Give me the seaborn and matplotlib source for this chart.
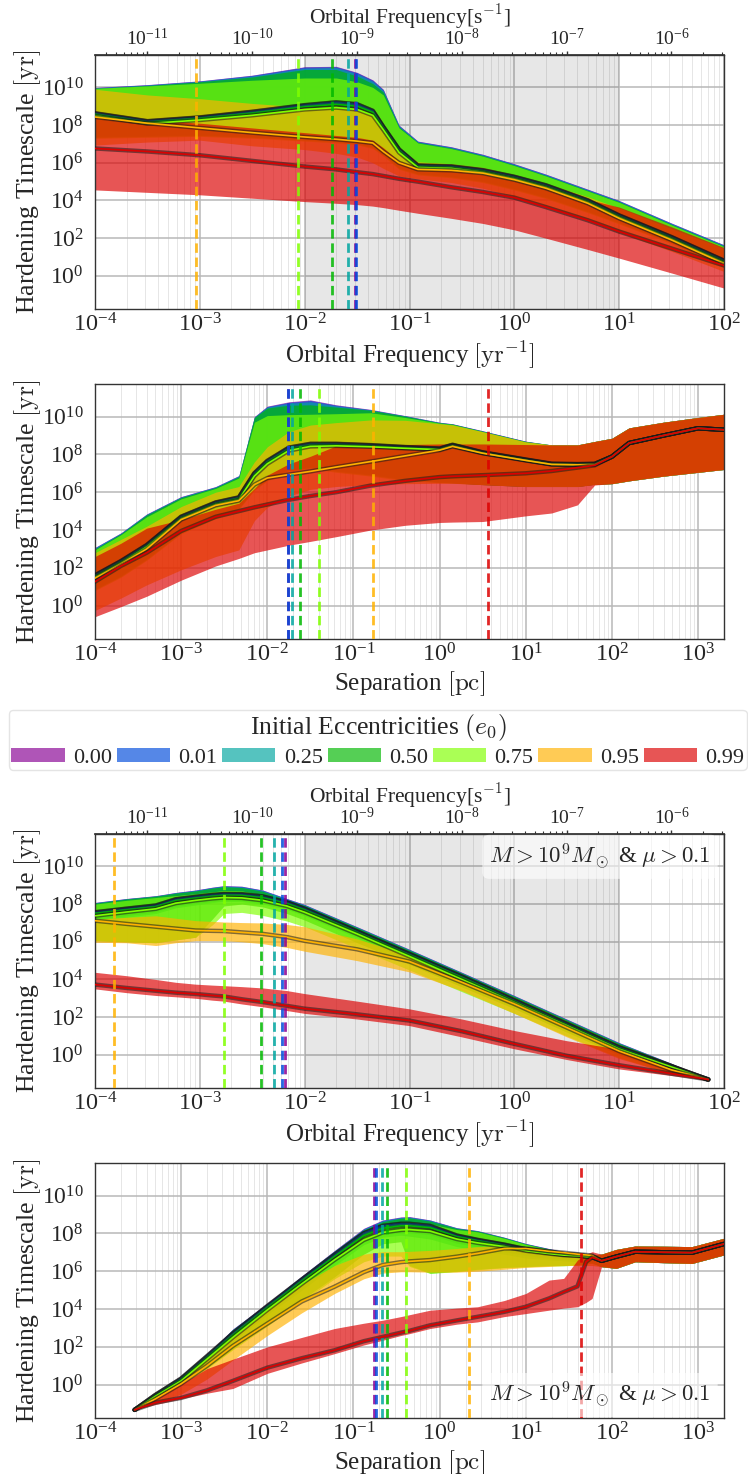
import numpy as np
import pandas as pd
import matplotlib
matplotlib.use("Agg")
import matplotlib.pyplot as plt
import matplotlib.ticker as mticker
import matplotlib.patheffects as pe
from matplotlib.patches import Patch
import seaborn as sns

# ---------------------------------------------------------------------------
# Eccentricity classes and their colours
# ---------------------------------------------------------------------------
ECC = ["0.00", "0.01", "0.25", "0.50", "0.75", "0.95", "0.99"]
COLORS = ["#880094", "#004cdc", "#00a6a0", "#00b800", "#80ff00", "#ffb200", "#dc0000"]
BAND_ALPHA = 0.667
YR_IN_S = 3.15576e7

# Decade tick positions for each axis
FREQ_TICKS = [1e-4, 1e-3, 1e-2, 1e-1, 1e0, 1e1, 1e2]
SEP_TICKS = [1e-4, 1e-3, 1e-2, 1e-1, 1e0, 1e1, 1e2, 1e3]
FREQ_S_TICKS = [1e-11, 1e-10, 1e-9, 1e-8, 1e-7, 1e-6]
TIME_TICKS = [1e0, 1e2, 1e4, 1e6, 1e8, 1e10]

# ---------------------------------------------------------------------------
# Panel 1: all binaries, hardening time vs orbital frequency [log10 yr^-1]
# rows follow ECC; values are log10(timescale / yr)
# ---------------------------------------------------------------------------
P1_X = [-4, -3.5, -3, -2.5, -2, -1.7, -1.5, -1.35, -1.25, -1.1, -0.92, -0.6, -0.3, 0, 0.3, 0.7, 1, 1.5, 2]
P1_HI = [
    [10.0, 10.15, 10.35, 10.65, 11.1, 11.12, 10.8, 10.4, 9.9, 8.0, 7.15, 6.85, 6.45, 5.95, 5.4, 4.6, 4.0, 2.8, 1.65],
    [9.99, 10.14, 10.34, 10.64, 11.08, 11.1, 10.78, 10.38, 9.88, 7.98, 7.14, 6.84, 6.44, 5.94, 5.39, 4.59, 3.99, 2.79, 1.64],
    [9.97, 10.12, 10.32, 10.6, 11.02, 11.05, 10.72, 10.32, 9.83, 7.95, 7.11, 6.81, 6.41, 5.91, 5.36, 4.56, 3.96, 2.76, 1.61],
    [9.95, 10.1, 10.3, 10.55, 10.95, 10.95, 10.6, 10.2, 9.75, 7.9, 7.08, 6.78, 6.38, 5.88, 5.33, 4.53, 3.93, 2.73, 1.58],
    [9.95, 10.08, 10.22, 10.38, 10.5, 10.5, 10.3, 10.0, 9.6, 7.85, 7.05, 6.75, 6.35, 5.85, 5.3, 4.5, 3.9, 2.7, 1.55],
    [9.9, 9.6, 9.4, 9.15, 8.95, 8.9, 8.8, 8.55, 7.9, 6.7, 6.05, 5.95, 5.75, 5.35, 4.9, 4.2, 3.6, 2.5, 1.45],
    [8.5, 8.3, 8.1, 7.85, 7.6, 7.45, 7.35, 7.2, 6.8, 6.1, 5.75, 5.6, 5.4, 5.05, 4.65, 4.05, 3.65, 2.6, 1.5],
]
P1_MED = [
    [8.62, 8.2, 8.4, 8.7, 9.05, 9.2, 9.1, 8.75, 7.9, 6.7, 5.85, 5.8, 5.6, 5.25, 4.8, 4.0, 3.2, 2.05, 0.8],
    [8.63, 8.21, 8.41, 8.71, 9.06, 9.21, 9.11, 8.76, 7.91, 6.71, 5.86, 5.81, 5.61, 5.26, 4.81, 4.01, 3.21, 2.06, 0.81],
    [8.6, 8.18, 8.38, 8.67, 9.02, 9.16, 9.06, 8.72, 7.88, 6.68, 5.83, 5.78, 5.58, 5.23, 4.78, 3.98, 3.18, 2.03, 0.78],
    [8.57, 8.15, 8.35, 8.63, 8.97, 9.1, 9.0, 8.67, 7.85, 6.65, 5.8, 5.75, 5.55, 5.2, 4.75, 3.95, 3.15, 2.0, 0.75],
    [8.5, 8.08, 8.27, 8.52, 8.83, 8.93, 8.83, 8.52, 7.75, 6.55, 5.75, 5.7, 5.5, 5.15, 4.7, 3.9, 3.1, 1.95, 0.7],
    [8.43, 8.1, 7.85, 7.6, 7.37, 7.25, 7.15, 7.05, 6.6, 6.0, 5.65, 5.6, 5.45, 5.1, 4.65, 3.85, 3.05, 1.9, 0.65],
    [6.76, 6.6, 6.4, 6.1, 5.8, 5.65, 5.5, 5.4, 5.3, 5.15, 5.0, 4.7, 4.45, 4.15, 3.65, 2.95, 2.35, 1.45, 0.55],
]
P1_LO = [
    [7.4, 7.45, 7.5, 7.4, 7.25, 7.15, 7.05, 6.85, 6.45, 5.75, 5.45, 5.3, 5.05, 4.65, 4.2, 3.45, 2.85, 1.8, 0.55],
    [7.39, 7.44, 7.49, 7.39, 7.24, 7.14, 7.04, 6.84, 6.44, 5.74, 5.44, 5.29, 5.04, 4.64, 4.19, 3.44, 2.84, 1.79, 0.54],
    [7.37, 7.42, 7.47, 7.37, 7.22, 7.12, 7.02, 6.82, 6.42, 5.72, 5.42, 5.27, 5.02, 4.62, 4.17, 3.42, 2.82, 1.77, 0.52],
    [7.35, 7.4, 7.45, 7.35, 7.2, 7.1, 7.0, 6.8, 6.4, 5.7, 5.4, 5.25, 5.0, 4.6, 4.15, 3.4, 2.8, 1.75, 0.5],
    [7.3, 7.35, 7.4, 7.3, 7.15, 7.05, 6.95, 6.75, 6.35, 5.65, 5.35, 5.2, 4.95, 4.55, 4.1, 3.35, 2.75, 1.7, 0.45],
    [6.94, 7.1, 7.2, 6.9, 6.7, 6.5, 6.3, 6.0, 5.7, 5.3, 5.15, 4.95, 4.65, 4.2, 3.7, 2.95, 2.3, 1.3, 0.23],
    [4.56, 4.43, 4.3, 4.12, 3.94, 3.85, 3.78, 3.7, 3.62, 3.48, 3.32, 3.05, 2.78, 2.44, 2.0, 1.4, 0.94, 0.15, -0.65],
]
P1_VLINES = [0.0305, 0.031, 0.0258, 0.0183, 0.0087, 9.2e-4, np.nan]

# ---------------------------------------------------------------------------
# Panel 2: all binaries, hardening time vs separation [log10 pc]
# ---------------------------------------------------------------------------
P2_X = [-4, -3.7, -3.4, -3.0, -2.6, -2.33, -2.15, -2.0, -1.75, -1.5, -1.2, -0.8, -0.4, 0, 0.15,
        0.5, 1.0, 1.3, 1.6, 1.8, 2.0, 2.2, 2.6, 3.0, 3.3]
P2_TAIL_HI = [8.85, 9.4, 9.7, 9.95, 10.12]
P2_TAIL_MED = [7.88, 8.6, 9.0, 9.38, 9.3]
P2_TAIL_LO = [6.45, 6.6, 6.85, 7.05, 7.2]
P2_HI = [
    [3.08, 3.85, 4.85, 5.77, 6.3, 6.88, 10.0, 10.55, 10.78, 10.88, 10.62, 10.38, 10.05, 9.7, 9.62, 9.25, 8.7, 8.5, 8.5, 8.68] + P2_TAIL_HI,
    [3.07, 3.84, 4.84, 5.76, 6.29, 6.87, 9.98, 10.53, 10.75, 10.85, 10.6, 10.36, 10.04, 9.69, 9.61, 9.24, 8.69, 8.5, 8.5, 8.68] + P2_TAIL_HI,
    [3.05, 3.82, 4.82, 5.74, 6.27, 6.85, 9.97, 10.5, 10.7, 10.78, 10.56, 10.35, 10.03, 9.68, 9.6, 9.23, 8.68, 8.5, 8.5, 8.68] + P2_TAIL_HI,
    [3.0, 3.8, 4.8, 5.72, 6.25, 6.82, 9.95, 10.45, 10.6, 10.62, 10.5, 10.33, 10.02, 9.67, 9.6, 9.22, 8.68, 8.5, 8.5, 8.68] + P2_TAIL_HI,
    [2.95, 3.75, 4.7, 5.65, 6.2, 6.75, 9.7, 10.05, 10.1, 10.12, 10.15, 10.2, 9.95, 9.65, 9.58, 9.2, 8.66, 8.5, 8.5, 8.68] + P2_TAIL_HI,
    [2.8, 3.5, 4.2, 5.24, 6.0, 6.3, 7.6, 8.4, 9.2, 9.55, 9.68, 9.82, 9.8, 9.62, 9.55, 9.2, 8.66, 8.5, 8.5, 8.68] + P2_TAIL_HI,
    [2.6, 3.3, 4.1, 4.55, 5.1, 5.42, 6.2, 6.9, 7.5, 7.9, 8.45, 8.5, 8.52, 8.55, 8.55, 8.55, 8.52, 8.5, 8.5, 8.68] + P2_TAIL_HI,
]
P2_MED = [
    [1.6, 2.35, 3.2, 4.7, 5.45, 5.72, 7.0, 7.65, 8.35, 8.55, 8.55, 8.48, 8.38, 8.3, 8.5, 8.1, 7.72, 7.5, 7.48, 7.5] + P2_TAIL_MED,
    [1.61, 2.36, 3.21, 4.71, 5.46, 5.73, 7.01, 7.66, 8.36, 8.56, 8.56, 8.49, 8.39, 8.31, 8.51, 8.11, 7.73, 7.51, 7.49, 7.5] + P2_TAIL_MED,
    [1.58, 2.33, 3.18, 4.68, 5.43, 5.7, 6.97, 7.62, 8.32, 8.52, 8.53, 8.46, 8.36, 8.29, 8.49, 8.09, 7.71, 7.49, 7.47, 7.49] + P2_TAIL_MED,
    [1.55, 2.3, 3.15, 4.65, 5.4, 5.67, 6.93, 7.58, 8.28, 8.48, 8.5, 8.44, 8.34, 8.27, 8.47, 8.08, 7.7, 7.48, 7.46, 7.48] + P2_TAIL_MED,
    [1.5, 2.25, 3.1, 4.6, 5.35, 5.6, 6.85, 7.5, 8.2, 8.42, 8.45, 8.4, 8.32, 8.25, 8.45, 8.07, 7.69, 7.47, 7.45, 7.47] + P2_TAIL_MED,
    [1.45, 2.2, 3.0, 4.55, 5.3, 5.55, 6.4, 6.75, 6.93, 7.1, 7.33, 7.62, 7.92, 8.22, 8.42, 8.06, 7.68, 7.47, 7.45, 7.46] + P2_TAIL_MED,
    [1.27, 2.1, 2.8, 3.95, 4.7, 5.0, 5.2, 5.35, 5.6, 5.8, 6.0, 6.35, 6.6, 6.8, 6.84, 6.9, 7.0, 7.12, 7.3, 7.42] + P2_TAIL_MED,
]
P2_LO = [
    [0.9, 1.6, 2.5, 3.9, 4.7, 5.2, 6.2, 6.7, 7.2, 7.35, 7.15, 6.95, 6.7, 6.55, 6.52, 6.42, 6.32, 6.32, 6.32, 6.42] + P2_TAIL_LO,
    [0.89, 1.59, 2.49, 3.89, 4.69, 5.19, 6.19, 6.69, 7.19, 7.34, 7.14, 6.94, 6.69, 6.54, 6.51, 6.41, 6.31, 6.31, 6.31, 6.42] + P2_TAIL_LO,
    [0.87, 1.57, 2.47, 3.87, 4.67, 5.17, 6.17, 6.67, 7.17, 7.32, 7.12, 6.92, 6.67, 6.53, 6.5, 6.4, 6.3, 6.3, 6.3, 6.42] + P2_TAIL_LO,
    [0.85, 1.55, 2.45, 3.85, 4.65, 5.15, 6.15, 6.65, 7.15, 7.3, 7.1, 6.9, 6.65, 6.52, 6.5, 6.4, 6.3, 6.3, 6.3, 6.42] + P2_TAIL_LO,
    [0.8, 1.5, 2.4, 3.8, 4.6, 5.1, 6.1, 6.6, 7.1, 7.25, 7.05, 6.85, 6.6, 6.5, 6.48, 6.4, 6.3, 6.3, 6.3, 6.42] + P2_TAIL_LO,
    [-0.25, 0.4, 1.1, 1.9, 2.6, 2.95, 4.5, 5.2, 5.8, 6.15, 6.3, 6.4, 6.45, 6.47, 6.47, 6.4, 6.3, 6.3, 6.3, 6.4] + P2_TAIL_LO,
    [-0.58, -0.05, 0.5, 1.35, 2.1, 2.5, 2.8, 2.95, 3.2, 3.4, 3.65, 4.0, 4.25, 4.4, 4.42, 4.45, 4.75, 4.9, 5.33, 6.38] + P2_TAIL_LO,
]
P2_VLINES = [0.0174, 0.0175, 0.0196, 0.0239, 0.040, 0.17, 3.63]

# ---------------------------------------------------------------------------
# Panel 3: M > 1e9 Msun & mu > 0.1, vs orbital frequency [log10 yr^-1]
# ---------------------------------------------------------------------------
P3_X = [-4, -3.7, -3.42, -3.23, -3.04, -2.88, -2.77, -2.6, -2.4, -2.17, -2.0, -1.5, -1.0, -0.5, 0, 0.5, 1.0, 1.5, 1.85]
P3_HI = [
    [8.09, 8.3, 8.45, 8.62, 8.75, 8.9, 8.98, 8.95, 8.75, 8.3, 7.98, 6.8, 5.6, 4.38, 3.15, 1.9, 0.65, -0.45, -1.28],
    [8.08, 8.29, 8.44, 8.61, 8.74, 8.89, 8.97, 8.94, 8.74, 8.29, 7.97, 6.79, 5.59, 4.37, 3.14, 1.89, 0.64, -0.46, -1.28],
    [8.07, 8.28, 8.43, 8.6, 8.72, 8.87, 8.95, 8.91, 8.71, 8.26, 7.95, 6.77, 5.57, 4.35, 3.12, 1.87, 0.62, -0.47, -1.29],
    [8.05, 8.27, 8.42, 8.58, 8.7, 8.85, 8.92, 8.88, 8.68, 8.22, 7.92, 6.75, 5.55, 4.33, 3.1, 1.85, 0.6, -0.48, -1.3],
    [8.0, 8.2, 8.35, 8.45, 8.55, 8.65, 8.72, 8.7, 8.5, 8.1, 7.8, 6.65, 5.45, 4.25, 3.05, 1.8, 0.55, -0.5, -1.31],
    [7.2, 7.3, 7.38, 7.25, 7.12, 7.08, 7.05, 7.02, 7.0, 6.92, 6.8, 6.15, 5.3, 4.2, 3.0, 1.75, 0.5, -0.55, -1.31],
    [4.38, 4.2, 4.0, 3.85, 3.75, 3.7, 3.67, 3.62, 3.55, 3.41, 3.25, 2.85, 2.44, 1.9, 1.29, 0.75, 0.3, -0.6, -1.31],
]
P3_MED = [
    [7.56, 7.75, 7.92, 8.25, 8.38, 8.48, 8.53, 8.52, 8.4, 8.09, 7.75, 6.55, 5.35, 4.15, 2.9, 1.65, 0.4, -0.6, -1.31],
    [7.57, 7.76, 7.93, 8.26, 8.39, 8.49, 8.54, 8.53, 8.41, 8.1, 7.76, 6.56, 5.36, 4.16, 2.91, 1.66, 0.41, -0.6, -1.31],
    [7.53, 7.72, 7.89, 8.22, 8.35, 8.45, 8.5, 8.49, 8.37, 8.06, 7.72, 6.52, 5.32, 4.12, 2.87, 1.62, 0.38, -0.62, -1.31],
    [7.5, 7.69, 7.86, 8.18, 8.31, 8.41, 8.46, 8.45, 8.33, 8.02, 7.68, 6.5, 5.3, 4.1, 2.85, 1.6, 0.36, -0.63, -1.31],
    [7.38, 7.58, 7.75, 8.05, 8.2, 8.3, 8.35, 8.33, 8.2, 7.9, 7.57, 6.42, 5.22, 4.0, 2.78, 1.55, 0.3, -0.65, -1.31],
    [7.12, 6.95, 6.8, 6.7, 6.6, 6.58, 6.57, 6.5, 6.42, 6.25, 6.05, 5.6, 4.95, 3.85, 2.7, 1.45, 0.2, -0.8, -1.31],
    [3.73, 3.55, 3.4, 3.3, 3.23, 3.15, 3.1, 2.95, 2.8, 2.6, 2.45, 2.15, 1.82, 1.25, 0.58, -0.05, -0.55, -1.0, -1.31],
]
P3_LO = [
    [7.2, 7.4, 7.6, 7.9, 8.05, 8.15, 8.2, 8.2, 8.08, 7.8, 7.45, 6.3, 5.1, 3.9, 2.7, 1.45, 0.2, -0.75, -1.34],
    [7.19, 7.39, 7.59, 7.89, 8.04, 8.14, 8.19, 8.19, 8.07, 7.79, 7.44, 6.29, 5.09, 3.89, 2.69, 1.44, 0.19, -0.76, -1.34],
    [7.1, 7.3, 7.5, 7.8, 7.95, 8.08, 8.14, 8.13, 8.0, 7.72, 7.38, 6.22, 5.02, 3.82, 2.62, 1.38, 0.14, -0.8, -1.34],
    [6.06, 6.0, 5.95, 6.1, 6.24, 7.21, 7.9, 8.0, 7.85, 7.5, 7.15, 5.95, 4.8, 3.6, 2.45, 1.2, 0.0, -0.9, -1.36],
    [6.06, 6.0, 5.95, 6.1, 6.24, 6.9, 7.5, 7.56, 7.4, 7.1, 6.8, 5.65, 4.5, 3.35, 2.2, 1.0, -0.15, -1.0, -1.36],
    [5.97, 5.95, 5.8, 5.95, 6.06, 6.06, 6.06, 6.0, 5.9, 5.7, 5.5, 5.0, 4.4, 3.4, 2.2, 0.95, -0.2, -1.0, -1.36],
    [3.5, 3.3, 3.15, 3.08, 3.0, 2.9, 2.85, 2.7, 2.55, 2.35, 2.2, 1.9, 1.55, 0.95, 0.32, -0.25, -0.75, -1.1, -1.36],
]
P3_VLINES = [6.5e-3, 6.1e-3, 5.14e-3, 3.86e-3, 1.71e-3, 1.53e-4, np.nan]

# ---------------------------------------------------------------------------
# Panel 4: M > 1e9 Msun & mu > 0.1, vs separation [log10 pc]
# ---------------------------------------------------------------------------
P4_X = [-3.54, -3.3, -3.0, -2.7, -2.4, -2.0, -1.6, -1.22, -0.88, -0.66, -0.45, -0.35, -0.11, 0.2,
        0.44, 0.75, 1.0, 1.27, 1.44, 1.6, 1.7, 1.77, 1.88, 2.05, 2.27, 2.6, 2.93, 3.3]
P4_TAIL_HI = [6.9, 7.15, 7.33, 7.32, 7.3, 7.74]
P4_TAIL_MED = [6.55, 6.77, 7.03, 7.0, 6.98, 7.44]
P4_TAIL_LO = [6.24, 6.15, 6.5, 6.45, 6.41, 6.86]
P4_HI = [
    [-1.33, -0.5, 0.45, 1.6, 2.95, 4.3, 5.75, 7.1, 8.27, 8.71, 8.87, 8.89, 8.71, 8.3, 8.15, 7.8, 7.47, 7.2, 7.05, 6.95, 6.9, 6.86] + P4_TAIL_HI,
    [-1.33, -0.51, 0.44, 1.59, 2.94, 4.29, 5.74, 7.08, 8.25, 8.69, 8.85, 8.87, 8.7, 8.29, 8.14, 7.79, 7.46, 7.19, 7.04, 6.94, 6.89, 6.85] + P4_TAIL_HI,
    [-1.33, -0.52, 0.42, 1.57, 2.92, 4.27, 5.72, 7.06, 8.22, 8.66, 8.83, 8.85, 8.68, 8.28, 8.13, 7.78, 7.45, 7.18, 7.03, 6.93, 6.88, 6.84] + P4_TAIL_HI,
    [-1.33, -0.53, 0.4, 1.55, 2.9, 4.25, 5.7, 7.03, 8.18, 8.62, 8.8, 8.82, 8.65, 8.26, 8.12, 7.77, 7.44, 7.17, 7.02, 6.92, 6.87, 6.83] + P4_TAIL_HI,
    [-1.33, -0.55, 0.38, 1.52, 2.85, 4.2, 5.65, 6.95, 8.05, 8.45, 8.6, 8.62, 8.5, 8.2, 8.08, 7.74, 7.42, 7.15, 7.0, 6.9, 6.86, 6.82] + P4_TAIL_HI,
    [-1.33, -0.45, 0.35, 1.4, 2.6, 3.95, 5.3, 6.3, 6.9, 7.03, 7.03, 7.05, 7.1, 7.2, 7.3, 7.35, 7.3, 7.15, 7.05, 6.95, 6.9, 6.86] + P4_TAIL_HI,
    [-1.33, -0.5, 0.05, 0.85, 1.35, 2.0, 2.5, 2.97, 3.25, 3.41, 3.6, 3.7, 3.94, 4.05, 4.12, 4.45, 4.82, 5.53, 5.62, 6.59, 6.9, 7.03] + P4_TAIL_HI,
]
P4_MED = [
    [-1.33, -0.55, 0.32, 1.5, 2.7, 4.15, 5.55, 6.86, 8.0, 8.39, 8.5, 8.5, 8.39, 7.88, 7.65, 7.4, 7.16, 7.0, 6.9, 6.86, 6.8, 6.77] + P4_TAIL_MED,
    [-1.33, -0.54, 0.33, 1.51, 2.71, 4.16, 5.56, 6.87, 8.01, 8.4, 8.51, 8.51, 8.4, 7.89, 7.66, 7.41, 7.17, 7.01, 6.91, 6.87, 6.81, 6.78] + P4_TAIL_MED,
    [-1.33, -0.56, 0.3, 1.47, 2.67, 4.12, 5.52, 6.82, 7.95, 8.34, 8.46, 8.46, 8.35, 7.85, 7.63, 7.38, 7.14, 6.98, 6.88, 6.84, 6.79, 6.76] + P4_TAIL_MED,
    [-1.33, -0.58, 0.27, 1.43, 2.62, 4.07, 5.47, 6.77, 7.88, 8.27, 8.4, 8.4, 8.3, 7.82, 7.6, 7.36, 7.12, 6.96, 6.87, 6.83, 6.78, 6.75] + P4_TAIL_MED,
    [-1.33, -0.62, 0.2, 1.35, 2.5, 3.95, 5.33, 6.6, 7.65, 8.05, 8.18, 8.2, 8.12, 7.7, 7.5, 7.3, 7.08, 6.93, 6.85, 6.81, 6.77, 6.74] + P4_TAIL_MED,
    [-1.33, -0.75, 0.05, 1.0, 2.05, 3.23, 4.4, 5.18, 5.95, 6.33, 6.48, 6.52, 6.59, 6.77, 6.94, 7.2, 7.2, 7.05, 6.98, 6.9, 6.86, 6.83] + P4_TAIL_MED,
    [-1.33, -0.95, -0.7, -0.3, 0.2, 0.9, 1.4, 1.82, 2.3, 2.53, 2.75, 2.85, 3.14, 3.4, 3.59, 3.85, 4.12, 4.56, 4.9, 5.2, 6.5, 6.73] + P4_TAIL_MED,
]
P4_LO = [
    [-1.33, -0.65, 0.15, 1.3, 2.45, 3.85, 5.2, 6.5, 7.6, 7.95, 8.05, 8.05, 7.95, 7.5, 7.3, 7.05, 6.85, 6.7, 6.65, 6.6, 6.55, 6.5] + P4_TAIL_LO,
    [-1.33, -0.66, 0.14, 1.29, 2.44, 3.84, 5.19, 6.49, 7.58, 7.93, 8.03, 8.03, 7.93, 7.48, 7.28, 7.03, 6.83, 6.68, 6.63, 6.58, 6.53, 6.48] + P4_TAIL_LO,
    [-1.33, -0.68, 0.1, 1.2, 2.3, 3.7, 5.0, 6.3, 7.4, 7.8, 7.9, 7.85, 7.7, 7.3, 7.1, 6.9, 6.7, 6.6, 6.55, 6.5, 6.45, 6.42] + P4_TAIL_LO,
    [-1.33, -0.7, 0.1, 0.9, 1.9, 3.2, 4.5, 5.7, 6.9, 7.45, 7.56, 6.3, 5.9, 6.0, 6.1, 6.2, 6.25, 6.3, 6.3, 6.35, 6.4, 6.45] + P4_TAIL_LO,
    [-1.33, -0.72, 0.05, 0.85, 1.85, 3.1, 4.4, 5.6, 6.5, 6.8, 6.8, 6.25, 5.88, 5.98, 6.08, 6.18, 6.23, 6.28, 6.28, 6.33, 6.38, 6.43] + P4_TAIL_LO,
    [-1.33, -1.0, -0.5, 0.3, 1.3, 2.6, 3.8, 4.82, 5.6, 5.9, 5.97, 5.97, 5.95, 5.95, 6.0, 6.1, 6.2, 6.25, 6.3, 6.3, 6.3, 6.3] + P4_TAIL_LO,
    [-1.33, -1.05, -0.75, -0.45, -0.2, 0.6, 1.15, 1.64, 2.1, 2.35, 2.6, 2.7, 2.97, 3.2, 3.32, 3.6, 3.76, 3.94, 4.05, 4.12, 4.35, 4.56] + P4_TAIL_LO,
]
P4_VLINES = [0.171, 0.185, 0.215, 0.247, 0.41, 2.18, 44.0]

SUBSET_LABEL = r"$M > 10^9 M_\odot$ & $\mu > 0.1$"
Y_LABEL = r"Hardening Timescale $[\mathrm{yr}]$"
F_LABEL = r"Orbital Frequency $[\mathrm{yr}^{-1}]$"
FS_LABEL = r"Orbital Frequency[s$^{-1}$]"
SEP_LABEL = r"Separation $[\mathrm{pc}]$"

# ---------------------------------------------------------------------------
sns.set_theme(style="whitegrid")
plt.rcParams["font.family"] = ["Liberation Serif", "DejaVu Serif"]
plt.rcParams["mathtext.fontset"] = "cm"
plt.rcParams["axes.unicode_minus"] = True

fig = plt.figure(figsize=(7.48, 14.74), dpi=100)
W, H = 748.0, 1474.0


def axes_at(top_px, bottom_px, left_px=95, right_px=724):
    return fig.add_axes([left_px / W, 1 - bottom_px / H, (right_px - left_px) / W, (bottom_px - top_px) / H])


def draw_panel(ax, xlog, lo, med, hi, vlines):
    x = 10.0 ** np.asarray(xlog, dtype=float)
    for i, c in enumerate(COLORS):
        ax.fill_between(x, 10.0 ** np.asarray(lo[i]), 10.0 ** np.asarray(hi[i]),
                        color=c, alpha=BAND_ALPHA, lw=0, zorder=2)
    frames = [pd.DataFrame({"x": x, "y": 10.0 ** np.asarray(med[i]), "ecc": e}) for i, e in enumerate(ECC)]
    df = pd.concat(frames, ignore_index=True)
    sns.lineplot(data=df, x="x", y="y", hue="ecc", hue_order=ECC, palette=COLORS,
                 estimator=None, sort=False, legend=False, lw=1.2, ax=ax, zorder=3)
    for line in ax.lines:
        line.set_path_effects([pe.Stroke(linewidth=3.2, foreground="k", alpha=0.55), pe.Normal()])
    for v, c in zip(vlines, COLORS):
        if np.isfinite(v):
            ax.axvline(v, color=c, ls=(0, (3.4, 1.7)), lw=2.0, alpha=0.85, zorder=4)


def style_axes(ax, xlim, xticks, xlabel):
    ax.set_xscale("log")
    ax.set_yscale("log")
    ax.set_xlim(*xlim)
    ax.set_ylim(10 ** -1.76, 10 ** 11.72)
    ax.yaxis.set_major_locator(mticker.FixedLocator(TIME_TICKS))
    ax.yaxis.set_major_formatter(mticker.LogFormatterSciNotation())
    ax.yaxis.set_minor_locator(mticker.NullLocator())
    ax.xaxis.set_major_locator(mticker.FixedLocator(xticks))
    ax.xaxis.set_major_formatter(mticker.LogFormatterSciNotation())
    ax.xaxis.set_minor_locator(mticker.LogLocator(base=10, subs=np.arange(2, 10), numticks=20))
    ax.xaxis.set_minor_formatter(mticker.NullFormatter())
    ax.grid(True, which="major", color="0.72", lw=1.1)
    ax.grid(True, which="minor", axis="x", color="0.9", lw=0.7)
    ax.set_ylabel(Y_LABEL, fontsize=18.5)
    ax.yaxis.set_label_coords(-0.083, 0.5)
    ax.set_xlabel(xlabel, fontsize=18, labelpad=2)
    ax.tick_params(axis="x", which="both", labelsize=17.5, length=0, pad=3)
    ax.tick_params(axis="y", which="both", labelsize=17, length=0, pad=8)
    for s in ax.spines.values():
        s.set_color("0.2")
        s.set_linewidth(1.0)


def add_top_frequency(ax):
    sec = ax.secondary_xaxis("top", functions=(lambda f: f / YR_IN_S, lambda f: f * YR_IN_S))
    sec.xaxis.set_major_locator(mticker.FixedLocator(FREQ_S_TICKS))
    sec.xaxis.set_major_formatter(mticker.LogFormatterSciNotation())
    sec.xaxis.set_minor_locator(mticker.LogLocator(base=10, subs=np.arange(2, 10), numticks=20))
    sec.xaxis.set_minor_formatter(mticker.NullFormatter())
    sec.tick_params(axis="x", which="major", length=3.2, width=1.0, color="0.2", labelsize=14, pad=1, direction="out")
    sec.tick_params(axis="x", which="minor", length=2.0, width=0.8, color="0.2", direction="out")
    sec.set_xlabel(FS_LABEL, fontsize=15.5, labelpad=3.5)
    sec.spines["top"].set_color("0.2")
    return sec


# Panel 1 ------------------------------------------------------------------
ax1 = axes_at(55, 309)
ax1.axvspan(1e-2, 1e1, color="k", alpha=0.1, lw=0, zorder=1)
draw_panel(ax1, P1_X, P1_LO, P1_MED, P1_HI, P1_VLINES)
style_axes(ax1, (1e-4, 1e2), FREQ_TICKS, F_LABEL)
add_top_frequency(ax1)

# Panel 2 ------------------------------------------------------------------
ax2 = axes_at(384, 639)
draw_panel(ax2, P2_X, P2_LO, P2_MED, P2_HI, P2_VLINES)
style_axes(ax2, (1e-4, 2e3), SEP_TICKS, SEP_LABEL)

# Legend -------------------------------------------------------------------
handles = [Patch(facecolor=c, alpha=BAND_ALPHA, edgecolor="none", label=e) for c, e in zip(COLORS, ECC)]
leg = fig.legend(handles=handles, loc="upper left", bbox_to_anchor=(9 / W, 1 - 710 / H), ncol=7,
                 title=r"Initial Eccentricities $(e_0)$", fontsize=16, title_fontsize=18.5,
                 handlelength=2.4, handleheight=0.6, handletextpad=0.37, columnspacing=0.22,
                 borderpad=0.1, borderaxespad=0, frameon=True, fancybox=True, labelspacing=0.2)
leg.get_frame().set_edgecolor("0.87")
leg.get_frame().set_linewidth(1.0)

# Panel 3 ------------------------------------------------------------------
ax3 = axes_at(834, 1088)
ax3.axvspan(1e-2, 1e1, color="k", alpha=0.1, lw=0, zorder=1)
draw_panel(ax3, P3_X, P3_LO, P3_MED, P3_HI, P3_VLINES)
style_axes(ax3, (1e-4, 1e2), FREQ_TICKS, F_LABEL)
add_top_frequency(ax3)
ax3.text(0.979, 0.91, SUBSET_LABEL, transform=ax3.transAxes, ha="right", va="center", fontsize=16.5,
         zorder=6, bbox=dict(boxstyle="round,pad=0.3", fc="white", ec="none", alpha=0.6))

# Panel 4 ------------------------------------------------------------------
ax4 = axes_at(1163, 1418)
draw_panel(ax4, P4_X, P4_LO, P4_MED, P4_HI, P4_VLINES)
style_axes(ax4, (1e-4, 2e3), SEP_TICKS, SEP_LABEL)
ax4.text(0.979, 0.09, SUBSET_LABEL, transform=ax4.transAxes, ha="right", va="center", fontsize=16.5,
         zorder=6, bbox=dict(boxstyle="round,pad=0.3", fc="white", ec="none", alpha=0.6))

fig.savefig("out.png", dpi=100)
